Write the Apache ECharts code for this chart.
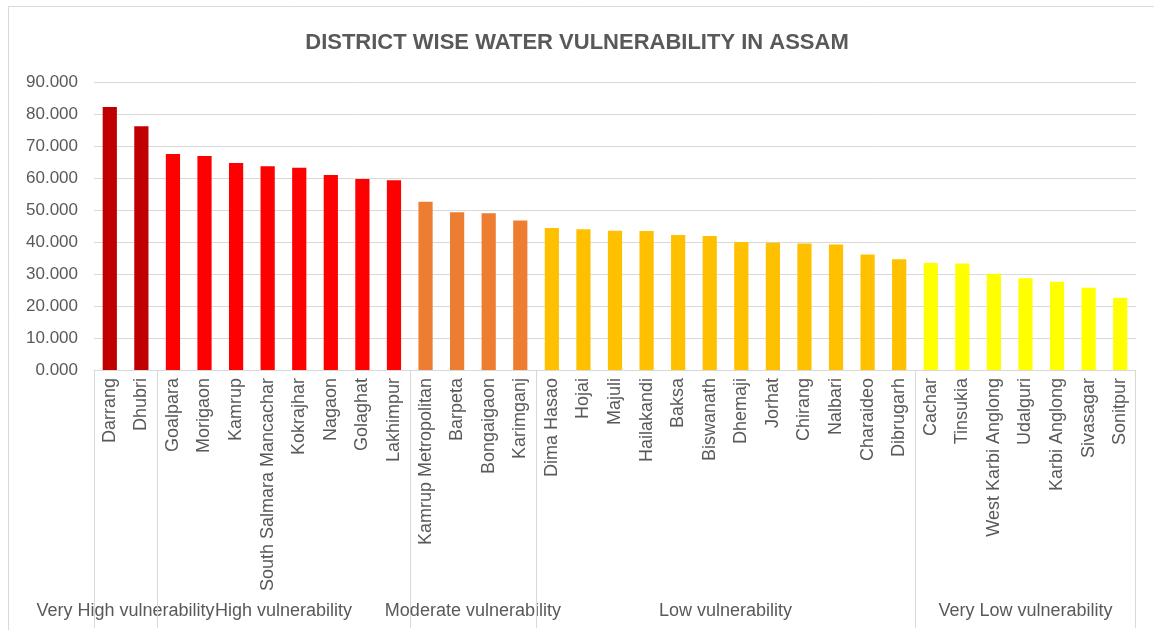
<!DOCTYPE html>
<html>
<head>
<meta charset="utf-8">
<script src="https://cdn.jsdelivr.net/npm/echarts@6/dist/echarts.min.js"></script>
<style>html,body{margin:0;padding:0;background:#fff}#c{width:1154px;height:630px}</style>
</head>
<body>
<div id="c"></div>
<script>
var districts = ["Darrang","Dhubri","Goalpara","Morigaon","Kamrup","South Salmara Mancachar","Kokrajhar","Nagaon","Golaghat","Lakhimpur","Kamrup Metropolitan","Barpeta","Bongaigaon","Karimganj","Dima Hasao","Hojai","Majuli","Hailakandi","Baksa","Biswanath","Dhemaji","Jorhat","Chirang","Nalbari","Charaideo","Dibrugarh","Cachar","Tinsukia","West Karbi Anglong","Udalguri","Karbi Anglong","Sivasagar","Sonitpur"];
var values = [82.2,76.2,67.5,66.9,64.7,63.7,63.2,60.9,59.7,59.3,52.6,49.3,49.0,46.7,44.4,44.0,43.5,43.4,42.2,41.9,40.0,39.8,39.5,39.2,36.1,34.6,33.4,33.3,30.1,28.7,27.6,25.7,22.6];
var groupNames = ["Very High vulnerability","High vulnerability","Moderate vulnerability","Low vulnerability","Very Low vulnerability"];
var groupCounts = [2,8,4,12,7];
var groupColors = ["#C00000","#FF0000","#ED7D31","#FFC000","#FFFF00"];
var yTicks = {min:0, max:90, interval:10};

var barColors = [];
var groupData = [];
var start = 0;
for (var g = 0; g < groupNames.length; g++) {
  for (var k = 0; k < groupCounts[g]; k++) barColors.push(groupColors[g]);
  groupData.push([start, start + groupCounts[g] - 1, g]);
  start += groupCounts[g];
}

var chart = echarts.init(document.getElementById('c'));
var font = 'Liberation Sans, Arial, sans-serif';
chart.setOption({
  animation: false,
  backgroundColor: '#fff',
  title: {
    text: 'DISTRICT WISE WATER VULNERABILITY IN ASSAM',
    left: 'center', top: 27,
    textStyle: {fontFamily: font, fontSize: 22, fontWeight: 'bold', color: '#595959'}
  },
  graphic: [{
    type: 'rect', shape: {x: 8.5, y: 6.5, width: 1160, height: 640},
    style: {fill: null, stroke: '#D9D9D9', lineWidth: 1}, silent: true, z: -1
  }],
  grid: {left: 94, right: 18, top: 82, bottom: 260},
  xAxis: {
    type: 'category',
    data: districts,
    axisLine: {lineStyle: {color: '#D9D9D9', width: 1}},
    axisTick: {show: false},
    axisLabel: {rotate: 90, interval: 0, margin: 8, fontFamily: font, fontSize: 18, color: '#595959'}
  },
  yAxis: {
    type: 'value', min: yTicks.min, max: yTicks.max, interval: yTicks.interval,
    axisLine: {show: false}, axisTick: {show: false},
    axisLabel: {formatter: function (v) { return v.toFixed(3); }, fontFamily: font, fontSize: 17, color: '#595959', margin: 16},
    splitLine: {lineStyle: {color: '#D9D9D9', width: 1}}
  },
  series: [{
    type: 'bar',
    data: values.map(function (v, i) { return {value: v, itemStyle: {color: barColors[i]}}; }),
    barWidth: '45%'
  }, {
    type: 'custom',
    data: groupData,
    clip: false,
    silent: true,
    renderItem: function (params, api) {
      var s = api.value(0), e = api.value(1), gi = api.value(2);
      var band = api.size([1, 0])[0];
      var p0 = api.coord([s, 0]);
      var p1 = api.coord([e, 0]);
      var x0 = p0[0] - band / 2, x1 = p1[0] + band / 2;
      var y0 = p0[1];
      var children = [{
        type: 'line', shape: {x1: Math.round(x0) + 0.5, y1: y0, x2: Math.round(x0) + 0.5, y2: 628},
        style: {stroke: '#D9D9D9', lineWidth: 1}
      }, {
        type: 'text',
        style: {text: groupNames[gi], x: (x0 + x1) / 2, y: y0 + 241, textAlign: 'center', textVerticalAlign: 'middle',
          font: '18px ' + font, fill: '#595959'}
      }];
      if (gi === groupNames.length - 1) {
        children.push({
          type: 'line', shape: {x1: Math.round(x1) - 0.5, y1: y0, x2: Math.round(x1) - 0.5, y2: 628},
          style: {stroke: '#D9D9D9', lineWidth: 1}
        });
      }
      return {type: 'group', children: children};
    }
  }]
});
</script>
</body>
</html>
